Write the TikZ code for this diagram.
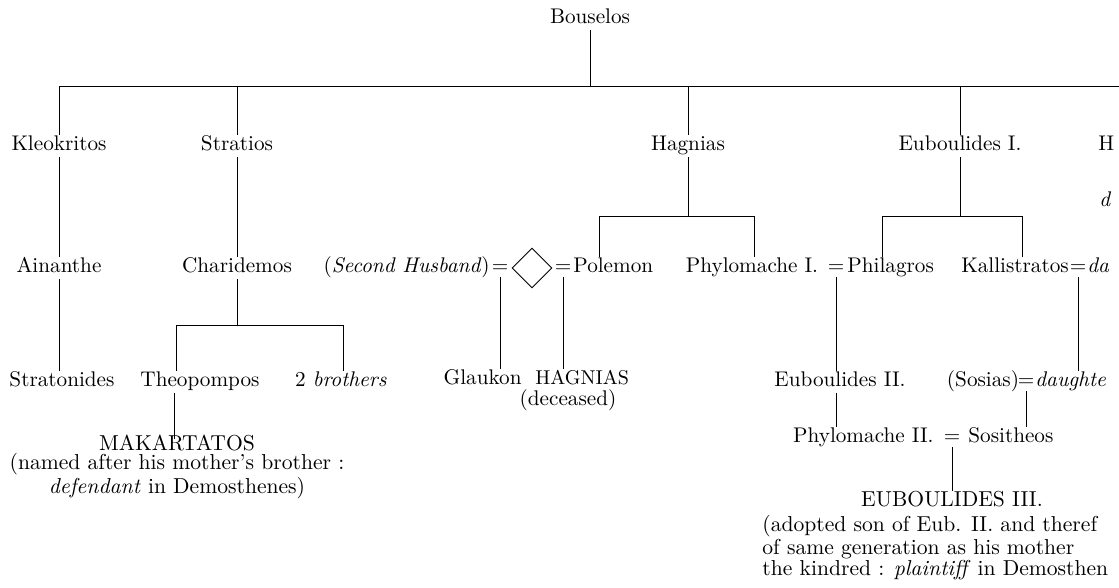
\documentclass[tikz,border=0pt]{standalone}
\usetikzlibrary{shapes.geometric}
\tikzset{
  person/.style={inner sep=1pt, font=\fontsize{10.6}{12.6}\selectfont, text height=1.6ex, text depth=.45ex},
  wed/.style={person, inner sep=0pt},
  note/.style={inner sep=0pt, font=\fontsize{10.8}{9.4}\selectfont},
  link/.style={line width=0.45pt},
  lozenge/.style={diamond, draw, line width=0.45pt, minimum width=20pt, minimum height=20pt, inner sep=0pt},
}
\begin{document}
\begin{tikzpicture}[x=0.5pt, y=-0.5pt]
\useasboundingbox (0,0) rectangle (1119,588);
\clip (0,0) rectangle (1119,588);

% first generation
\node[person] (bou) at (590,19) {Bouselos};
\coordinate (topL) at (59,86);
\coordinate (topR) at (1119,86);

\node[person] (kleo) at (59,146) {Kleokritos};
\node[person] (strat) at (237,146) {Stratios};
\node[person] (hag) at (688,146) {Hagnias};
\node[person] (eub1) at (960,146) {Euboulides I.};
\node[person, anchor=west] (hx) at (1096,146) {H};
\node[person, anchor=west] (dx) at (1097,202) {\textit{d}};

% second generation
\node[person] (ain) at (59,268) {Ainanthe};
\node[person] (char) at (237,268) {Charidemos};
\node[person, anchor=east] (sech) at (492,268) {(\textit{Second Husband})};
\node[wed] (eqA) at (500,268) {=};
\node[lozenge] (dia) at (532,268) {};
\node[wed] (eqB) at (563,268) {=};
\node[person, anchor=west] (pol) at (571,268) {Polemon};
\node[person] (phyl1) at (752,268) {Phylomache I.};
\node[wed] (eqC) at (836,268) {=};
\node[person, anchor=west] (phil) at (845,268) {Philagros};
\node[person] (kall) at (1015,268) {Kallistratos};
\node[wed] (eqD) at (1078,268) {=};
\node[person, anchor=west] (wifeK) at (1085,268) {\textit{da}};

% third generation
\node[person] (stratn) at (62,382) {Stratonides};
\node[person] (theo) at (200,382) {Theopompos};
\node[person] (bro) at (341,382) {2 \textit{brothers}};
\node[person, anchor=east] (glau) at (524,380) {Glaukon};
\node[person, anchor=west, font=\fontsize{10}{12}\selectfont] (hagn) at (533,380) {HAGNIAS};
\node[person] (dec) at (568,401) {(deceased)};
\node[person] (eub2) at (840,382) {Euboulides II.};
\node[person] (sos) at (983,382) {(Sosias)};
\node[wed] (eqE) at (1026,382) {=};
\node[person, anchor=west] (dau) at (1033,382) {\textit{daughte}};

% fourth generation
\node[note, align=center, anchor=north] (mak) at (177,435)
  {MAKARTATOS\\(named after his mother's brother :\\\textit{defendant} in Demosthenes)};
\coordinate (makup) at (174,433);
\node[person, anchor=east] (phyl2) at (936,438) {Phylomache II.};
\node[wed] (eqF) at (952,438) {=};
\node[person, anchor=west] (sosi) at (966,438) {Sositheos};

\node[note] (eub3) at (952,499) {EUBOULIDES III.};
\node[note, align=left, anchor=north west] (eubnote) at (762,515)
  {(adopted son of Eub. II. and theref\\of same generation as his mother\\the kindred : \textit{plaintiff} in Demosthen};

% lines
\draw[link] (topL) -- (topR);
\draw[link] (bou) -- (bou |- topL);
\draw[link] (topL) -- (kleo);
\draw[link] (strat |- topL) -- (strat);
\draw[link] (hag |- topL) -- (hag);
\draw[link] (eub1 |- topL) -- (eub1);

\draw[link] (kleo) -- (ain);
\draw[link] (ain) -- (stratn.north -| ain);
\draw[link] (strat) -- (char);

\coordinate (cbL) at (176,325);
\coordinate (cbR) at (343,325);
\draw[link] (char) -- (char |- cbL);
\draw[link] (theo.north -| cbL) |- (cbR) -- (bro.north -| cbR);
\draw[link] (theo.south -| makup) -- ([yshift=-3pt]makup);

\coordinate (hbL) at (599,216);
\coordinate (hbR) at (754,216);
\draw[link] (hag) -- (hag |- hbL);
\draw[link] (pol.north -| hbL) |- (hbR) -- (phyl1.north -| hbR);
\draw[link] (eqA.south) -- (eqA.south |- glau.north);
\draw[link] (eqB.south) -- (eqB.south |- hagn.north);

\coordinate (ebL) at (882,216);
\coordinate (ebR) at (1022,216);
\draw[link] (eub1) -- (eub1 |- ebL);
\draw[link] (phil.north -| ebL) |- (ebR) -- (kall.north -| ebR);
\draw[link] (eqC.south) -- (eqC.south |- eub2.north);
\draw[link] (eub2.south -| eqC) -- (phyl2.north -| eqC);
\draw[link] (eqD.south) -- (eqD.south |- dau.north);
\draw[link] (eqE.south) -- (eqE.south |- sosi.north);
\draw[link] (eqF.south) -- (eqF.south |- eub3.north);
\end{tikzpicture}
\end{document}
